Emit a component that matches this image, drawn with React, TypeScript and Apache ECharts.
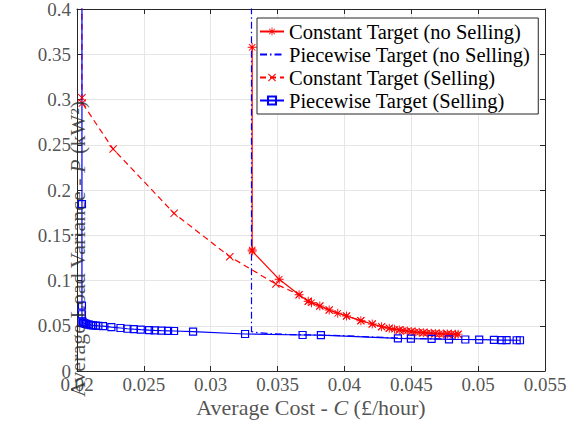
import React, { useEffect, useRef } from "react";
import * as echarts from "echarts";

// ---- Data ----
const xTicks = [0.02, 0.025, 0.03, 0.035, 0.04, 0.045, 0.05, 0.055];
const yTicks = [0, 0.05, 0.1, 0.15, 0.2, 0.25, 0.3, 0.35, 0.4];

const seriesNames = [
  "Constant Target (no Selling)",
  "Piecewise Target (no Selling)",
  "Constant Target (Selling)",
  "Piecewise Target (Selling)",
];

const xAxisName = "{n|Average Cost - }{i|C}{n| (£/hour)}";
const yAxisName = "{n|Average Load Variance - }{i|P}{n| (kW²)}";

// Constant Target (no Selling)
const cNoSellX = [0.0331, 0.0331, 0.0331, 0.03512, 0.03661, 0.03729, 0.03754, 0.03816, 0.03886, 0.0395, 0.04016, 0.04123, 0.04208, 0.04278, 0.04335, 0.04375, 0.0441, 0.0444, 0.0447, 0.045, 0.0453, 0.0456, 0.0459, 0.0462, 0.0465, 0.0468, 0.0471, 0.0474, 0.0477, 0.048, 0.0483, 0.0485];
const cNoSellY = [0.3577, 0.1337, 0.1325, 0.1013, 0.0843, 0.077, 0.0755, 0.0718, 0.0674, 0.0638, 0.0608, 0.0556, 0.0519, 0.049, 0.0472, 0.0462, 0.0454, 0.0447, 0.0441, 0.0436, 0.0431, 0.0427, 0.0423, 0.042, 0.0417, 0.0414, 0.0412, 0.041, 0.0409, 0.0408, 0.0407, 0.0407];

// Piecewise Target (no Selling)
const pNoSellX = [0.03305, 0.03305, 0.0335, 0.0345, 0.036, 0.038, 0.04, 0.042, 0.044, 0.046, 0.0485];
const pNoSellY = [0.45, 0.0435, 0.0425, 0.0412, 0.0403, 0.0397, 0.039, 0.0377, 0.0364, 0.0357, 0.0351];

// Constant Target (Selling)
const cSellX = [0.02037, 0.02037, 0.0204, 0.0227, 0.02726, 0.03143, 0.03487, 0.03661, 0.03729, 0.03816, 0.03886, 0.04016, 0.04123, 0.04208, 0.04278, 0.04335, 0.0441, 0.045, 0.0459, 0.0468, 0.0477, 0.0485];
const cSellY = [0.45, 0.302, 0.296, 0.2453, 0.1742, 0.1263, 0.0961, 0.0843, 0.077, 0.0718, 0.0674, 0.0608, 0.0556, 0.0519, 0.049, 0.0472, 0.0454, 0.0436, 0.0423, 0.0414, 0.0409, 0.0407];

// Piecewise Target (Selling)
const pSellX = [0.02037, 0.02037, 0.02037, 0.02037, 0.0204, 0.02045, 0.0205, 0.02058, 0.02067, 0.02078, 0.0209, 0.02105, 0.0212, 0.0214, 0.0216, 0.02195, 0.02257, 0.02325, 0.02377, 0.02424, 0.02477, 0.02539, 0.02581, 0.02632, 0.02681, 0.02726, 0.02868, 0.03257, 0.03687, 0.03824, 0.044, 0.04497, 0.04652, 0.04782, 0.04904, 0.05008, 0.05118, 0.05176, 0.05213, 0.05288, 0.05313];
const pSellY = [0.45, 0.1845, 0.0722, 0.0627, 0.0545, 0.0536, 0.053, 0.0525, 0.052, 0.0516, 0.0512, 0.0508, 0.0505, 0.0502, 0.0499, 0.0495, 0.0485, 0.0475, 0.0467, 0.0462, 0.0457, 0.0452, 0.0449, 0.0446, 0.0444, 0.0442, 0.0434, 0.0409, 0.0398, 0.0396, 0.0361, 0.0357, 0.0354, 0.035, 0.0348, 0.0347, 0.0343, 0.0342, 0.0341, 0.034, 0.034];

const FONT = "'Liberation Serif', serif";
const TXT = "#262626";

const asterisk =
  "path://M0 4.5H10V5.5H0Z M4.5 0H5.5V10H4.5Z M1.1 1.8L1.8 1.1L8.9 8.2L8.2 8.9Z M8.2 1.1L8.9 1.8L1.8 8.9L1.1 8.2Z";
const cross =
  "path://M1.1 1.8L1.8 1.1L8.9 8.2L8.2 8.9Z M8.2 1.1L8.9 1.8L1.8 8.9L1.1 8.2Z";

function toData(xs: number[], ys: number[], hideAbove = 0.4) {
  return xs.map((x, i) =>
    ys[i] > hideAbove ? { value: [x, ys[i]], symbol: "none" } : [x, ys[i]]
  );
}

const fmt = (v: number) => String(parseFloat(v.toFixed(3)));

export default function App() {
  const ref = useRef<HTMLDivElement>(null);
  useEffect(() => {
    if (!ref.current) return;
    const chart = echarts.init(ref.current, undefined, { renderer: "svg" });
    const axisCommon = {
      type: "value" as const,
      axisLine: { show: true, onZero: false, lineStyle: { color: TXT, width: 1 } },
      axisTick: { show: true, inside: true, length: 5, lineStyle: { color: TXT, width: 1 } },
      axisLabel: { show: false },
    };
    const xMin = xTicks[0];
    const xMax = xTicks[xTicks.length - 1];
    const xInt = +(xTicks[1] - xTicks[0]).toFixed(4);
    const yMin = yTicks[0];
    const yMax = yTicks[yTicks.length - 1];
    const yInt = +(yTicks[1] - yTicks[0]).toFixed(4);
    const richName = {
      n: { fontFamily: FONT, fontSize: 22, color: TXT },
      i: { fontFamily: FONT, fontSize: 22, color: TXT, fontStyle: "italic" },
    };
    const labelSeriesBase = {
      type: "scatter" as const,
      symbolSize: 0,
      silent: true,
      clip: false,
      z: 5,
    };
    chart.setOption({
      animation: false,
      backgroundColor: "#ffffff",
      textStyle: { fontFamily: FONT, color: TXT },
      grid: { left: 77, right: 23, top: 9, bottom: 55, containLabel: false, outerBoundsMode: "none" },
      legend: {
        orient: "vertical",
        left: 257,
        top: 18,
        backgroundColor: "#ffffff",
        borderColor: TXT,
        borderWidth: 1,
        borderRadius: 0,
        padding: [3, 8, 3, 2],
        itemGap: 2,
        itemWidth: 24,
        itemHeight: 10,
        textStyle: { fontFamily: FONT, fontSize: 20.5, color: "#000", lineHeight: 21 },
        data: [
          { name: seriesNames[0] },
          { name: seriesNames[1], itemStyle: { opacity: 0 } },
          { name: seriesNames[2] },
          { name: seriesNames[3] },
        ],
      },
      xAxis: [
        {
          ...axisCommon,
          position: "bottom",
          min: xMin,
          max: xMax,
          interval: xInt,
          splitLine: { show: true, lineStyle: { color: "#e6e6e6", width: 1 } },
        },
        {
          ...axisCommon,
          position: "top",
          min: xMin,
          max: xMax,
          interval: xInt,
          splitLine: { show: false },
        },
      ],
      yAxis: [
        {
          ...axisCommon,
          position: "left",
          min: yMin,
          max: yMax,
          interval: yInt,
          splitLine: { show: true, lineStyle: { color: "#e6e6e6", width: 1 } },
        },
        {
          ...axisCommon,
          position: "right",
          min: yMin,
          max: yMax,
          interval: yInt,
          splitLine: { show: false },
        },
      ],
      series: [
        {
          name: seriesNames[0],
          type: "line",
          data: toData(cNoSellX, cNoSellY),
          symbol: asterisk,
          symbolSize: 9,
          lineStyle: { color: "#ff0000", width: 1.2 },
          itemStyle: { color: "#ff0000" },
          clip: true,
        },
        {
          name: seriesNames[1],
          type: "line",
          data: toData(pNoSellX, pNoSellY),
          symbol: "none",
          lineStyle: { color: "#0000ff", width: 1.2, type: [7, 3, 1.5, 3] },
          itemStyle: { color: "#0000ff" },
          clip: true,
        },
        {
          name: seriesNames[2],
          type: "line",
          data: toData(cSellX, cSellY),
          symbol: cross,
          symbolSize: 8,
          lineStyle: { color: "#ff0000", width: 1.2, type: [6, 4] },
          itemStyle: { color: "#ff0000" },
          clip: true,
        },
        {
          name: seriesNames[3],
          type: "line",
          data: toData(pSellX, pSellY),
          symbol: "rect",
          symbolSize: 7,
          lineStyle: { color: "#0000ff", width: 1.2 },
          itemStyle: { color: "rgba(255,255,255,0)", borderColor: "#0000ff", borderWidth: 1.2 },
          clip: true,
        },
        // x tick labels, placed through the axis scale
        {
          ...labelSeriesBase,
          name: "xTickLabels",
          data: xTicks.map((v) => [v, yMin]),
          label: {
            show: true,
            position: "inside",
            align: "center",
            verticalAlign: "middle",
            offset: [0, 13],
            fontFamily: FONT,
            fontSize: 19,
            color: TXT,
            formatter: (p: any) => fmt(p.value[0]),
          },
        },
        // y tick labels
        {
          ...labelSeriesBase,
          name: "yTickLabels",
          data: yTicks.map((v) => [xMin, v]),
          label: {
            show: true,
            position: "inside",
            align: "right",
            verticalAlign: "middle",
            offset: [-6, 0],
            fontFamily: FONT,
            fontSize: 19,
            color: TXT,
            formatter: (p: any) => fmt(p.value[1]),
          },
        },
        // axis titles
        {
          ...labelSeriesBase,
          name: "xAxisName",
          data: [[(xMin + xMax) / 2, yMin]],
          label: {
            show: true,
            position: "inside",
            align: "center",
            verticalAlign: "middle",
            offset: [0, 36],
            fontFamily: FONT,
            fontSize: 22,
            color: TXT,
            formatter: () => xAxisName,
            rich: richName,
          },
        },
        {
          ...labelSeriesBase,
          name: "yAxisName",
          data: [[xMin, (yMin + yMax) / 2]],
          label: {
            show: true,
            position: "inside",
            align: "center",
            verticalAlign: "middle",
            rotate: 90,
            offset: [-59, 0],
            fontFamily: FONT,
            fontSize: 22,
            color: TXT,
            formatter: () => yAxisName,
            rich: richName,
          },
        },
      ],
    });
    return () => chart.dispose();
  }, []);
  return (
    <>
      <style>{`#chart-root text { font-family: 'Liberation Serif', serif !important; }`}</style>
      <div
        id="chart-root"
        ref={ref}
        style={{ position: "fixed", left: 0, top: 0, width: 568, height: 426 }}
      />
    </>
  );
}
